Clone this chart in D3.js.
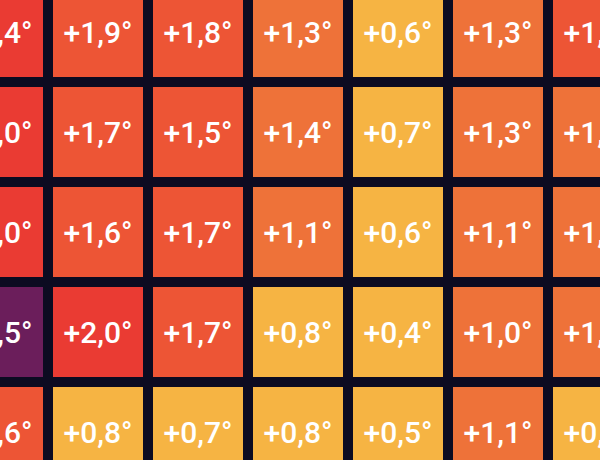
<!DOCTYPE html>
<html>
<head>
<meta charset="utf-8">
<script src="https://cdnjs.cloudflare.com/ajax/libs/d3/7.8.5/d3.min.js"></script>
<style>
  html, body { margin: 0; padding: 0; background: #0c0b21; overflow: hidden; }
</style>
</head>
<body>
<div id="heatmap"></div>
<script>
var width = 600;
var height = 460;
var bgColor = '#0c0b21';

// data: one array per row, columns left to right
var columns = ['c0', 'c1', 'c2', 'c3', 'c4', 'c5', 'c6'];
var rows = ['r0', 'r1', 'r2', 'r3', 'r4'];
var row0 = [2.4, 1.9, 1.8, 1.3, 0.6, 1.3, 1.6];
var row1 = [2.0, 1.7, 1.5, 1.4, 0.7, 1.3, 1.2];
var row2 = [2.0, 1.6, 1.7, 1.1, 0.6, 1.1, 1.3];
var row3 = [2.5, 2.0, 1.7, 0.8, 0.4, 1.0, 1.2];
var row4 = [1.6, 0.8, 0.7, 0.8, 0.5, 1.1, 0.7];
var values = [row0, row1, row2, row3, row4];

// colour steps
var thresholds = [0.95, 1.45, 1.95, 2.45];
var palette = ['#f6b443', '#ee7239', '#ed5535', '#ea3b33', '#6b1e5b'];

var cells = [];
values.forEach(function(r, i) {
  r.forEach(function(v, j) {
    cells.push({row: rows[i], col: columns[j], value: v});
  });
});

var svg = d3.select('#heatmap').append('svg')
      .attr('width', width)
      .attr('height', height)
      .style('display', 'block');

svg.append('rect')
      .attr('width', width)
      .attr('height', height)
      .attr('fill', bgColor);

var xScale = d3.scaleBand()
      .domain(columns)
      .range([-52, 648])
      .paddingInner(0.1)
      .paddingOuter(0.05);

var yScale = d3.scaleBand()
      .domain(rows)
      .range([-18, 482])
      .paddingInner(0.1)
      .paddingOuter(0.05);

var color = d3.scaleThreshold()
      .domain(thresholds)
      .range(palette);

var fmt = function(v) {
  return '+' + d3.format('.1f')(v).replace('.', ',') + '°';
};

var cell = svg.selectAll('g.cell')
      .data(cells)
    .enter()
      .append('g')
      .attr('class', 'cell')
      .attr('transform', d => 'translate(' + xScale(d.col) + ',' + yScale(d.row) + ')');

cell.append('rect')
      .attr('width', xScale.bandwidth())
      .attr('height', yScale.bandwidth())
      .attr('fill', d => color(d.value));

cell.append('text')
      .attr('x', xScale.bandwidth() / 2)
      .attr('y', yScale.bandwidth() / 2)
      .attr('text-anchor', 'middle')
      .attr('dominant-baseline', 'central')
      .style('font-family', 'Roboto, sans-serif')
      .style('font-weight', 500)
      .style('font-size', '30px')
      .style('fill', '#ffffff')
      .text(d => fmt(d.value));
</script>
</body>
</html>
